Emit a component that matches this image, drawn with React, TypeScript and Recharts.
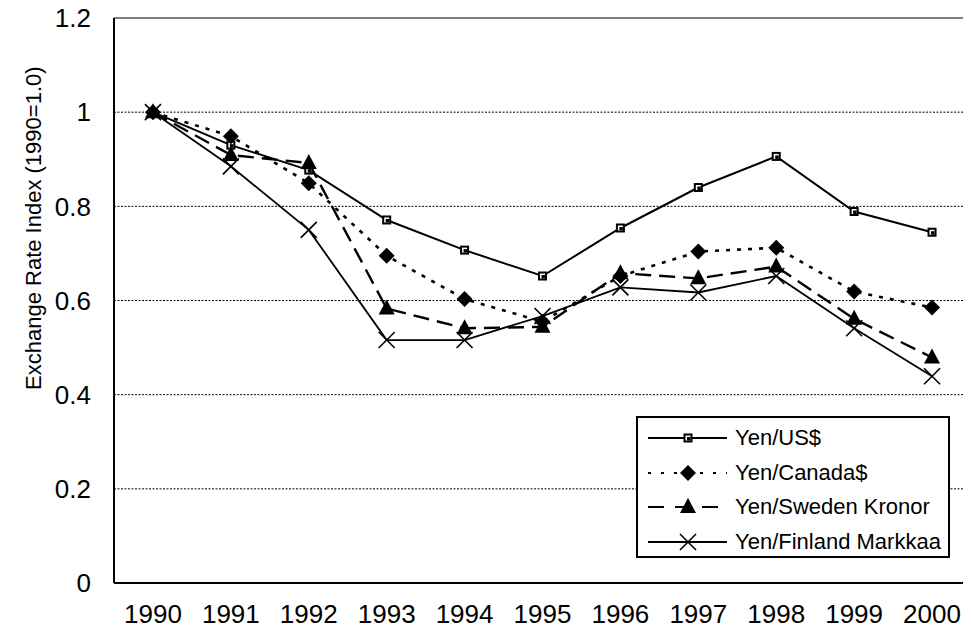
import React from "react"
import { LineChart, Line, XAxis, YAxis, CartesianGrid, Legend, ReferenceLine } from "recharts"

const years = ["1990", "1991", "1992", "1993", "1994", "1995", "1996", "1997", "1998", "1999", "2000"]
const yenUsd = [1.0, 0.93, 0.877, 0.771, 0.707, 0.652, 0.754, 0.84, 0.906, 0.789, 0.745]
const yenCanada = [1.0, 0.949, 0.849, 0.695, 0.603, 0.555, 0.652, 0.704, 0.712, 0.619, 0.585]
const yenSweden = [1.0, 0.909, 0.892, 0.583, 0.541, 0.544, 0.658, 0.647, 0.672, 0.561, 0.479]
const yenFinland = [1.0, 0.885, 0.75, 0.516, 0.516, 0.567, 0.628, 0.617, 0.652, 0.541, 0.439]
const yTicks = [0, 0.2, 0.4, 0.6, 0.8, 1, 1.2]

const FONT = '"Liberation Sans", Arial, sans-serif'

const data = years.map((year, i) => ({
  idx: i,
  year,
  usd: yenUsd[i],
  cad: yenCanada[i],
  sek: yenSweden[i],
  fim: yenFinland[i],
}))

type MarkerKind = "square" | "diamond" | "triangle" | "cross"

function Marker({ kind, cx, cy }: { kind: MarkerKind; cx: number; cy: number }) {
  if (kind === "square") {
    return (
      <g>
        <rect x={cx - 4.5} y={cy - 4.5} width={9} height={9} fill="#000" />
        <rect x={cx - 2.5} y={cy - 2.5} width={5} height={5} fill="#fff" />
        <rect x={cx - 1} y={cy - 1} width={3.5} height={3.5} fill="#000" />
      </g>
    )
  }
  if (kind === "diamond") {
    return <polygon points={`${cx},${cy - 8} ${cx + 8},${cy} ${cx},${cy + 8} ${cx - 8},${cy}`} fill="#000" />
  }
  if (kind === "triangle") {
    return <polygon points={`${cx},${cy - 9} ${cx + 8},${cy + 6} ${cx - 8},${cy + 6}`} fill="#000" />
  }
  return (
    <g stroke="#000" strokeWidth={1.6}>
      <line x1={cx - 8} y1={cy - 8} x2={cx + 8} y2={cy + 8} />
      <line x1={cx - 8} y1={cy + 8} x2={cx + 8} y2={cy - 8} />
    </g>
  )
}

const series = [
  { key: "usd", name: "Yen/US$", marker: "square" as MarkerKind, width: 2, dash: undefined, legendDash: undefined },
  { key: "cad", name: "Yen/Canada$", marker: "diamond" as MarkerKind, width: 2.6, dash: "4 7", legendDash: "3 10" },
  { key: "sek", name: "Yen/Sweden Kronor", marker: "triangle" as MarkerKind, width: 2.4, dash: "16 8", legendDash: "16 11" },
  { key: "fim", name: "Yen/Finland Markkaa", marker: "cross" as MarkerKind, width: 1.8, dash: undefined, legendDash: undefined },
]

function LegendBox() {
  return (
    <div
      style={{
        boxSizing: "border-box",
        width: 314,
        height: 142,
        border: "2px solid #000",
        background: "#fff",
        paddingTop: 3,
        fontFamily: FONT,
        fontSize: 22,
        color: "#000",
      }}
    >
      {series.map((s) => (
        <div key={s.key} style={{ display: "flex", alignItems: "center", height: 34.5 }}>
          <svg width={97} height={34} style={{ display: "block" }}>
            <line x1={10} y1={17} x2={89} y2={17} stroke="#000" strokeWidth={2} strokeDasharray={s.legendDash} />
            <Marker kind={s.marker} cx={50} cy={17} />
          </svg>
          <span style={{ whiteSpace: "nowrap", lineHeight: "34px" }}>{s.name}</span>
        </div>
      ))}
    </div>
  )
}

function YTitle(props: any) {
  const vb = props.viewBox
  const x = vb.x + 25
  const y = vb.y + vb.height * 0.372
  return (
    <text
      transform={`translate(${x}, ${y}) rotate(-90)`}
      textAnchor="middle"
      dominantBaseline="central"
      fontFamily={FONT}
      fontSize={22}
      fill="#000"
    >
      Exchange Rate Index (1990=1.0)
    </text>
  )
}

export default function App() {
  return (
    <LineChart width={963} height={632} data={data} margin={{ top: 10, right: 0, left: 0, bottom: 0 }}>
      <CartesianGrid vertical={false} stroke="#000" strokeDasharray="2 1.5" strokeWidth={1} />
      <XAxis
        dataKey="idx"
        type="number"
        domain={[-0.5, 10.5]}
        ticks={[0, 1, 2, 3, 4, 5, 6, 7, 8, 9, 10]}
        tickFormatter={(v: number) => years[v]}
        allowDataOverflow
        height={57}
        tickLine={false}
        tickSize={0}
        tickMargin={22}
        axisLine={{ stroke: "#000", strokeWidth: 2 }}
        tick={{ fontFamily: FONT, fontSize: 26, fill: "#000" }}
        interval={0}
      />
      <XAxis
        xAxisId="marks"
        dataKey="idx"
        type="number"
        domain={[-0.5, 10.5]}
        ticks={[0.5, 1.5, 2.5, 3.5, 4.5, 5.5, 6.5, 7.5, 8.5, 9.5]}
        allowDataOverflow
        mirror
        height={20}
        tick={false}
        tickSize={8}
        axisLine={false}
        tickLine={{ stroke: "#000", strokeWidth: 2 }}
        interval={0}
      />
      <YAxis
        domain={[0, 1.2]}
        ticks={yTicks}
        allowDataOverflow
        width={106}
        tickSize={0}
        tickMargin={23}
        tickFormatter={(v: number) => String(Math.round(v * 10) / 10)}
        axisLine={{ stroke: "#000", strokeWidth: 2 }}
        tickLine={false}
        tick={{ fontFamily: FONT, fontSize: 26, fill: "#000" }}
        interval={0}
        label={<YTitle />}
      />
      <YAxis
        yAxisId="marks"
        domain={[0, 1.2]}
        ticks={yTicks}
        allowDataOverflow
        mirror
        width={20}
        tick={false}
        tickSize={6}
        axisLine={false}
        tickLine={{ stroke: "#000", strokeWidth: 2 }}
        interval={0}
      />
      <ReferenceLine y={1.2} stroke="#808080" strokeWidth={2} />
      {series.map((s) => (
        <Line
          key={s.key}
          dataKey={s.key}
          name={s.name}
          type="linear"
          stroke="#000"
          strokeWidth={s.width}
          strokeDasharray={s.dash}
          isAnimationActive={false}
          dot={(p: any) => <Marker key={`${s.key}-${p.index}`} kind={s.marker} cx={p.cx} cy={p.cy} />}
          activeDot={false}
        />
      ))}
      <Legend
        layout="horizontal"
        align="center"
        verticalAlign="middle"
        wrapperStyle={{ left: 628, top: 408, width: 314, height: 142 }}
        content={() => <LegendBox />}
      />
    </LineChart>
  )
}
